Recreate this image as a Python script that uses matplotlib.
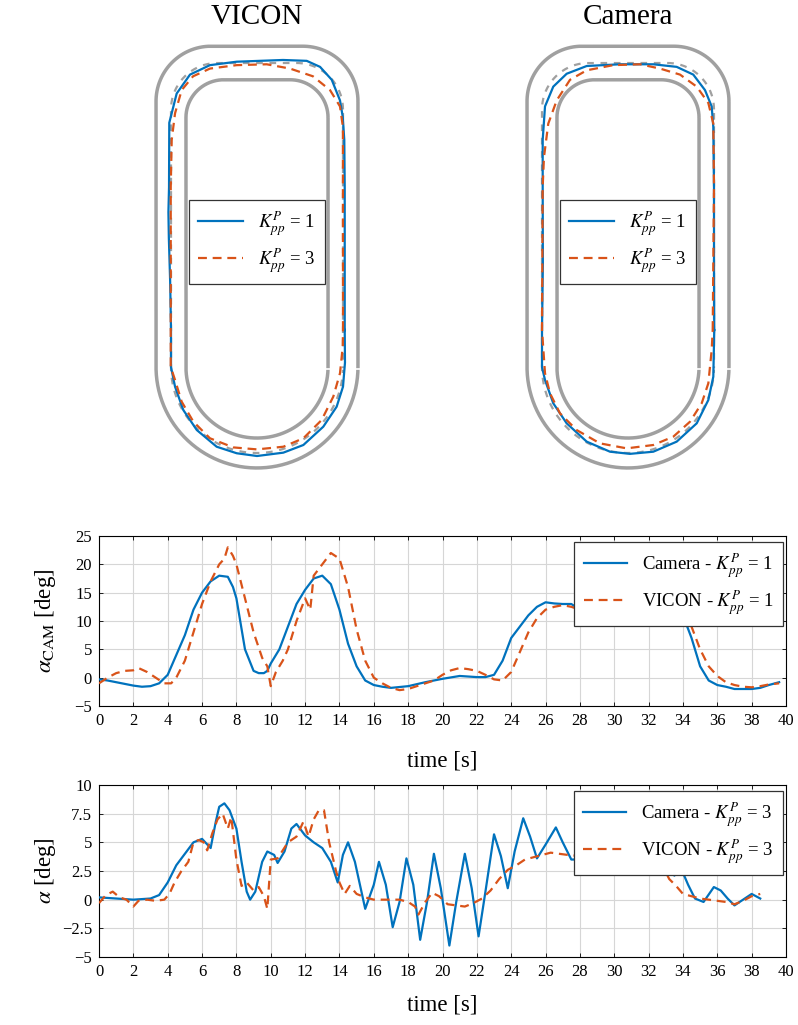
import numpy as np
import matplotlib
matplotlib.use("Agg")
import matplotlib.pyplot as plt

plt.rcParams['font.family'] = ['Liberation Serif', 'DejaVu Serif']
plt.rcParams['mathtext.fontset'] = 'stix'

# ---- track trajectories (track units, origin = centre of the bottom bend) ----
vic1_x = [1.02, 1.02, 1.02, 1.015, 0.997, 0.965, 0.869, 0.733, 0.578, 0.302, -0.236, -0.547, -0.779,
          -0.934, -1.02, -1.023, -1.03, -1.025, -1.01, -1.0, -1.0, -0.953, -0.857, -0.70, -0.469,
          -0.236, 0.0, 0.306, 0.539, 0.771, 0.926, 1.0, 1.023, 1.02]
vic1_y = [0.43, 1.2, 2.09, 2.64, 2.91, 3.10, 3.34, 3.49, 3.56, 3.57, 3.55, 3.51, 3.40,
          3.18, 2.84, 2.09, 1.8, 1.5, 1.0, 0.43, 0.0, -0.229, -0.5, -0.733, -0.927,
          -1.003, -1.035, -0.996, -0.907, -0.694, -0.462, -0.229, 0.05, 0.43]
vic3_x = [1.0, 0.999, 0.999, 0.965, 0.849, 0.651, 0.384, 0.113, -0.236, -0.547, -0.744, -0.876,
          -0.953, -0.992, -1.003, -1.003, -1.003, -0.953, -0.876, -0.74, -0.547, -0.275, 0.0,
          0.306, 0.539, 0.752, 0.887, 0.965, 0.997, 1.0]
vic3_y = [0.43, 2.10, 2.79, 3.03, 3.22, 3.38, 3.47, 3.52, 3.51, 3.47, 3.38, 3.22,
          2.95, 2.64, 2.09, 0.43, 0.0, -0.151, -0.403, -0.636, -0.829, -0.935, -0.958,
          -0.927, -0.829, -0.616, -0.345, -0.073, 0.236, 0.43]
cam1_x = [1.003, 1.0, 1.0, 0.992, 0.973, 0.895, 0.759, 0.566, 0.294, -0.093, -0.48, -0.713, -0.869,
          -0.965, -0.992, -0.992, -0.99, -1.0, -1.0, -0.965, -0.869, -0.713, -0.48, -0.209, 0.023,
          0.294, 0.566, 0.799, 0.934, 0.992, 1.003]
cam1_y = [0.43, 1.2, 2.10, 2.79, 3.03, 3.22, 3.40, 3.49, 3.52, 3.52, 3.50, 3.41, 3.26,
          3.03, 2.64, 2.10, 1.2, 0.43, 0.0, -0.151, -0.422, -0.655, -0.868, -0.985, -1.01,
          -0.985, -0.868, -0.655, -0.384, -0.113, 0.43]
cam3_x = [0.985, 1.0, 0.992, 0.934, 0.799, 0.605, 0.372, 0.14, -0.171, -0.48, -0.674, -0.829,
          -0.927, -0.977, -0.992, -1.0, -0.965, -0.907, -0.791, -0.597, -0.326, -0.015, 0.294,
          0.527, 0.721, 0.857, 0.934, 0.973, 0.985]
cam3_y = [0.43, 2.10, 2.83, 3.07, 3.26, 3.40, 3.47, 3.52, 3.51, 3.45, 3.34, 3.10,
          2.83, 2.44, 2.10, 0.43, -0.073, -0.306, -0.539, -0.733, -0.888, -0.946, -0.907,
          -0.81, -0.636, -0.422, -0.19, 0.198, 0.43]

# ---- heading angle, K_pp^P = 1 ----
t_cam1 = [0, 0.5, 1, 1.5, 2, 2.5, 3, 3.5, 4, 4.5, 5, 5.5, 6, 6.5, 7, 7.5, 7.8, 8, 8.5, 9,
          9.3, 9.6, 9.8, 10, 10.5, 11, 11.5, 12, 12.5, 13, 13.5, 14, 14.5, 15, 15.5, 16, 16.5, 17, 18, 19,
          20, 21, 22, 22.5, 23, 23.5, 24, 24.5, 25, 25.5, 26, 26.5, 27, 27.5, 28, 28.5, 29, 29.5, 30, 31,
          32, 32.5, 33, 33.5, 34, 34.5, 35, 35.5, 36, 36.5, 37, 37.5, 38, 38.5, 39, 39.6]
a_cam1 = [-0.3, -0.5, -0.8, -1.1, -1.4, -1.6, -1.5, -1.0, 0.5, 4, 7.5, 12, 15, 17, 18, 17.8, 16, 14, 5, 1.2,
          0.8, 0.8, 1.2, 2.5, 5, 9, 13, 15.5, 17.5, 18, 16.5, 12, 6, 2, -0.5, -1.3, -1.6, -1.8, -1.5, -0.8,
          -0.2, 0.3, 0.1, 0.1, 0.5, 3, 7, 9, 11, 12.5, 13.3, 13.1, 13, 13, 12, 11, 11.5, 11.5, 12, 11.5,
          11.5, 10.5, 11.5, 11.8, 11, 7, 2, -0.5, -1.3, -1.6, -2, -2, -2, -1.8, -1.3, -0.8]
t_vic1 = [0, 0.5, 1, 1.5, 2, 2.3, 2.8, 3.3, 3.8, 4.2, 4.5, 5, 5.5, 6, 6.5, 7, 7.3, 7.5, 7.8, 8,
          8.5, 9, 9.5, 9.8, 10, 10.3, 10.7, 11, 11.5, 12, 12.3, 12.5, 13, 13.5, 14, 14.5, 15, 15.5, 16, 16.5,
          17, 17.5, 18, 18.5, 19, 19.5, 20, 20.5, 21, 21.5, 22, 22.5, 23, 23.5, 24, 24.5, 25, 25.5, 26, 26.5,
          27, 27.5, 28, 29, 30, 31, 32, 33, 34, 34.5, 35, 35.5, 36, 36.5, 37, 37.5, 38, 38.5, 39, 39.6]
a_vic1 = [-1, 0, 0.8, 1.2, 1.3, 1.7, 1, 0, -1, -1, 0, 3, 8, 13, 17, 20, 21, 23, 21.5, 20,
          14, 8, 3.5, 2, -1.5, 1, 3, 5, 10, 14, 12, 18, 20, 22, 21, 16, 8.5, 3, 0, -1,
          -1.8, -2.2, -2, -1.5, -1, -0.5, 0.5, 1.3, 1.7, 1.5, 1.2, 0.5, -0.3, -0.5, 1, 4.5, 8, 10.5, 12, 12.5,
          12.8, 12.5, 12, 11.5, 11.5, 11.5, 11.5, 11.5, 11.5, 9, 5, 2, 0.3, -0.8, -1.3, -1.6, -1.7, -1.5, -1.2, -1]

# ---- heading angle, K_pp^P = 3 ----
t_cam3 = [0, 2, 3, 3.5, 4, 4.5, 5, 5.5, 6, 6.5, 6.8, 7, 7.3, 7.6, 8, 8.3, 8.6, 8.8, 9.1, 9.5,
          9.8, 10.2, 10.4, 10.8, 11.2, 11.5, 12, 12.5, 13, 13.5, 13.9, 14.2, 14.5, 14.9, 15.5, 16, 16.3, 16.7,
          17.1, 17.5, 17.9, 18.3, 18.7, 19.1, 19.5, 19.9, 20.4, 20.8, 21.3, 21.7, 22.1, 22.5, 23, 23.4, 23.8,
          24.2, 24.7, 25.1, 25.5, 26, 26.6, 27, 27.5, 28, 29, 30, 31, 32, 32.8, 33.5, 33.9, 34.3, 34.7, 35.2,
          35.8, 36.2, 36.6, 37, 37.5, 38, 38.5]
a_cam3 = [0.2, 0.0, 0.1, 0.4, 1.5, 3.0, 4.0, 5.0, 5.3, 4.5, 6.8, 8.1, 8.4, 7.8, 6.2, 3.3, 0.7, 0.0, 0.7, 3.3,
          4.2, 3.9, 3.2, 4.2, 6.2, 6.6, 5.6, 5.0, 4.5, 3.3, 1.5, 3.9, 5.0, 3.3, -0.8, 1.3, 3.3, 1.3,
          -2.4, -0.2, 3.6, 1.3, -3.5, -0.2, 4.0, 1.0, -4.0, -0.2, 4.0, 1.0, -3.2, 0.7, 5.7, 3.8, 1.0,
          4.2, 7.1, 5.5, 3.6, 4.8, 6.3, 5.0, 3.5, 3.5, 5.5, 4.0, 5.5, 4.5, 4.0, 2.1, 2.7, 1.3, 0.1, -0.2,
          1.1, 0.8, 0.1, -0.5, 0.0, 0.5, 0.1]
t_vic3 = [0, 0.4, 0.8, 1.2, 1.6, 2, 2.3, 2.8, 3.3, 3.8, 4.1, 4.4, 4.8, 5.2, 5.5, 5.8, 6.1, 6.3, 6.6, 6.9,
          7.2, 7.5, 7.7, 8, 8.3, 8.6, 9, 9.3, 9.6, 9.8, 10, 10.4, 11, 11.5, 11.9, 12.2, 12.5, 12.8, 13.1, 13.4,
          13.8, 14, 14.3, 14.6, 15, 15.5, 16, 17, 17.5, 18, 18.4, 18.6, 19, 19.4, 19.8, 20.3, 20.8, 21.3, 21.8,
          22.3, 22.8, 23.3, 23.8, 24.3, 24.8, 25.3, 25.8, 26.3, 26.8, 27.3, 28, 29, 30, 31, 32, 32.8, 33.2,
          33.6, 34, 34.5, 35, 35.5, 36, 36.5, 37, 37.5, 38, 38.5]
a_vic3 = [-0.3, 0.4, 0.7, 0.2, 0.0, -0.6, -0.1, 0.0, -0.1, 0.0, 0.5, 1.5, 2.5, 3.3, 5.0, 5.2, 5.0, 4.3, 5.8, 7.0,
          7.5, 6.2, 7.2, 3.5, 1.2, 1.5, 0.8, 1.1, 0.3, -0.8, 3.5, 3.6, 5.0, 5.5, 6.8, 5.5, 7.0, 7.8, 7.8, 5.0,
          2.5, 1.5, 0.5, 1.2, 0.5, 0.2, 0.0, 0.0, 0.0, -0.2, -0.6, -1.3, -0.2, 0.6, 0.3, -0.4, -0.5, -0.6, -0.3,
          0.1, 0.8, 1.8, 2.6, 3.0, 3.5, 3.7, 3.9, 4.1, 4.0, 3.9, 3.8, 4.0, 4.0, 4.0, 3.5, 3.0, 1.8,
          1.2, 0.5, 0.3, 0.1, 0.0, -0.1, -0.2, -0.4, -0.1, 0.3, 0.5]

BLUE = '#0072BD'
ORANGE = '#D95319'
GRAY = '#a0a0a0'

W, H = 798, 1025
fig = plt.figure(figsize=(W / 100, H / 100), dpi=100)


def px_box(x0, y0, x1, y1):
    return [x0 / W, 1 - y1 / H, (x1 - x0) / W, (y1 - y0) / H]


def boundary(R, top, rc, n=60):
    a = np.linspace(0, np.pi / 2, n)
    xs = [R - rc + rc * np.cos(a)]
    ys = [top - rc + rc * np.sin(a)]
    a = np.linspace(np.pi / 2, np.pi, n)
    xs.append(-(R - rc) + rc * np.cos(a))
    ys.append(top - rc + rc * np.sin(a))
    a = np.linspace(np.pi, 2 * np.pi, 2 * n)
    xs.append(R * np.cos(a))
    ys.append(R * np.sin(a))
    xs.append([R - rc + rc])
    ys.append([top - rc])
    return np.concatenate(xs), np.concatenate(ys)


S = 86.0  # pixels per track unit
cy = 367.0


def track_panel(cx, title, p1, p3):
    x0, x1, y0, y1 = cx - 130, cx + 130, 35, 480
    ax = fig.add_axes(px_box(x0, y0, x1, y1))
    ax.set_xlim((x0 - cx) / S, (x1 - cx) / S)
    ax.set_ylim((cy - y1) / S, (cy - y0) / S)
    ax.axis('off')
    for R, top, rc in [(1.174, 3.73, 0.64), (0.826, 3.34, 0.44)]:
        bx, by = boundary(R, top, rc)
        ax.plot(bx, by, color=GRAY, lw=2.5, solid_capstyle='butt', zorder=1)
    cxl, cyl = boundary(1.0, 3.535, 0.54)
    ax.plot(cxl, cyl, color=GRAY, lw=1.6, dashes=(3, 3), zorder=1)
    ax.plot([0.80, 1.20], [-0.02, -0.02], color='white', lw=1.2, zorder=2)
    ax.plot(p1[0], p1[1], color=BLUE, lw=1.6, zorder=3, label=r'$K_{pp}^{P}$ = 1')
    ax.plot(p3[0], p3[1], color=ORANGE, lw=1.6, dashes=(4, 2.6), zorder=4, label=r'$K_{pp}^{P}$ = 3')
    leg = ax.legend(loc='center', bbox_to_anchor=(0.5, ((cy - 242) / S - (cy - y1) / S) / ((y1 - y0) / S)),
                    fontsize=13.5, handlelength=2.4, frameon=True, fancybox=False, framealpha=1,
                    edgecolor='#333333', borderpad=0.5, labelspacing=0.4, handletextpad=0.8)
    leg.get_frame().set_linewidth(0.9)
    fig.text(cx / W, 1 - 17 / H, title, ha='center', va='center', fontsize=21)


track_panel(257, 'VICON', (vic1_x, vic1_y), (vic3_x, vic3_y))
track_panel(628, 'Camera', (cam1_x, cam1_y), (cam3_x, cam3_y))


def time_panel(box, t_c, a_c, t_v, a_v, k, ylim, yticks, yticklabels, ylabel, xlabel_y):
    ax = fig.add_axes(px_box(*box))
    ax.plot(t_c, a_c, color=BLUE, lw=1.6, label=r'Camera - $K_{pp}^{P}$ = %d' % k, zorder=3)
    ax.plot(t_v, a_v, color=ORANGE, lw=1.6, dashes=(4, 2.6), label=r'VICON - $K_{pp}^{P}$ = %d' % k, zorder=3)
    ax.set_xlim(0, 40)
    ax.set_ylim(*ylim)
    ax.set_xticks(np.arange(0, 41, 2))
    ax.set_yticks(yticks)
    ax.set_yticklabels(yticklabels)
    ax.grid(True, color='#d6d6d6', lw=0.8)
    ax.set_axisbelow(True)
    ax.tick_params(direction='in', length=3, width=0.6, top=True, right=True, labelsize=12, pad=5)
    for s in ax.spines.values():
        s.set_linewidth(0.8)
    ax.set_xlabel('time [s]', fontsize=16.5)
    ax.xaxis.set_label_coords(0.5, (box[3] - xlabel_y) / (box[3] - box[1]))
    ax.xaxis.label.set_va('center')
    ax.set_ylabel(ylabel, fontsize=16.5)
    ax.yaxis.set_label_coords((45 - 99) / (786 - 99), 0.5)
    ax.yaxis.label.set_va('center')
    leg = ax.legend(loc='upper right', bbox_to_anchor=(783 / W, 1 - (box[1] + 6) / H),
                    bbox_transform=fig.transFigure, fontsize=13.5, handlelength=2.3, fancybox=False,
                    framealpha=1, edgecolor='#333333', borderpad=0.5, labelspacing=0.4,
                    handletextpad=0.8, borderaxespad=0)
    leg.get_frame().set_linewidth(0.9)
    return ax


time_panel((99, 536, 786, 706), t_cam1, a_cam1, t_vic1, a_vic1, 1, (-5, 25),
           [-5, 0, 5, 10, 15, 20, 25], ['\u22125', '0', '5', '10', '15', '20', '25'],
           r'$\alpha_{\mathrm{CAM}}$ [deg]', 761)
time_panel((99, 785, 786, 957), t_cam3, a_cam3, t_vic3, a_vic3, 3, (-5, 10),
           [-5, -2.5, 0, 2.5, 5, 7.5, 10], ['\u22125', '\u22122.5', '0', '2.5', '5', '7.5', '10'],
           r'$\alpha$ [deg]', 1005)

fig.savefig('out.png', dpi=100)
